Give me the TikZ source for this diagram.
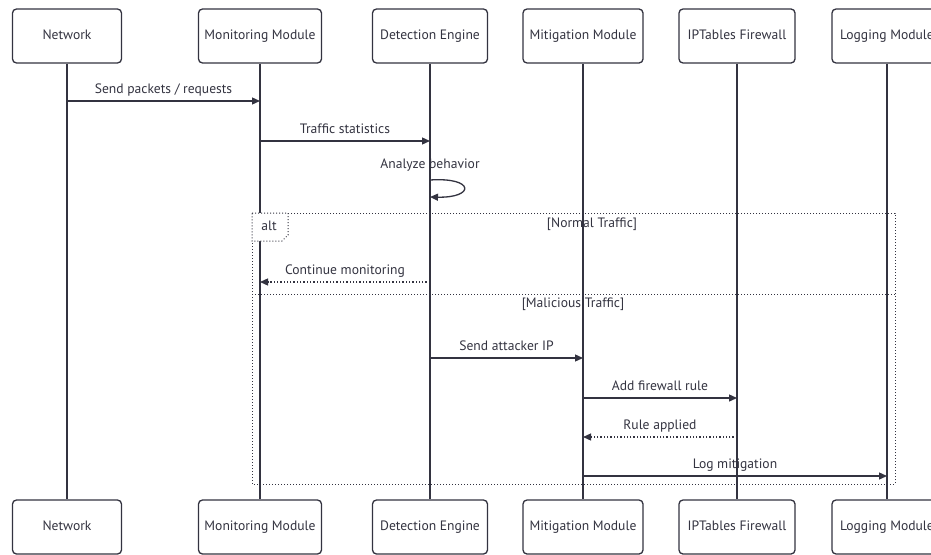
\documentclass[tikz,border=0pt]{standalone}
\usepackage{fontspec}
\setmainfont{PT Sans}
\usetikzlibrary{arrows.meta,positioning}
\definecolor{ink}{HTML}{333340}

\tikzset{
  actor/.style={draw=ink, line width=1.3pt, fill=white, rounded corners=4pt,
    minimum height=54pt, text=ink, font=\fontsize{13.6}{15}\selectfont,
    text height=1.6ex, text depth=.3ex},
  life/.style={draw=ink, line width=1.4pt},
  msg/.style={draw=ink, line width=1.3pt, -{Triangle[length=8pt,width=7pt]}},
  reply/.style={msg, dotted},
  lbl/.style={text=ink, font=\fontsize{13.6}{15}\selectfont, inner sep=2pt,
    text height=1.6ex, text depth=.3ex},
  frame/.style={draw=ink, line width=1pt, dotted},
}

\begin{document}
\begin{tikzpicture}[x=1pt,y=-1pt]
\useasboundingbox (0,0) rectangle (931,554);
\clip (0,0) rectangle (931,554);

% participants, top and bottom
\node[actor, minimum width=109pt] (nett) at (67,36) {Network};
\node[actor, minimum width=123pt] (mont) at (260,36) {Monitoring Module};
\node[actor, minimum width=115pt] (dett) at (430,36) {Detection Engine};
\node[actor, minimum width=120pt] (mitt) at (583,36) {Mitigation Module};
\node[actor, minimum width=116pt] (ipt)  at (737,36) {IPTables Firewall};
\node[actor, minimum width=110pt] (logt) at (887,36) {Logging Module};

\node[actor, minimum width=109pt] (netb) at (67,527) {Network};
\node[actor, minimum width=123pt] (monb) at (260,527) {Monitoring Module};
\node[actor, minimum width=115pt] (detb) at (430,527) {Detection Engine};
\node[actor, minimum width=120pt] (mitb) at (583,527) {Mitigation Module};
\node[actor, minimum width=116pt] (ipb)  at (737,527) {IPTables Firewall};
\node[actor, minimum width=110pt] (logb) at (887,527) {Logging Module};

\foreach \a/\b in {nett/netb, mont/monb, dett/detb, mitt/mitb, ipt/ipb, logt/logb}
  \draw[life] (\a) -- (\b);

% alt frame
\draw[frame] (252,213) rectangle (895,484);
\draw[frame] (252,294) -- (895,294);
\draw[frame, fill=white] (252,213) -- (288,213) -- (288,235) -- (282,241) -- (252,241) -- cycle;
\node[lbl] (alt) at (269,227) {alt};
\node[lbl] (normal) at (592,224) {[Normal Traffic]};
\node[lbl] (malicious) at (573,304) {[Malicious Traffic]};

% messages
\draw[msg] (nett |- 0,101) -- node[lbl, above=3pt] (m1) {Send packets / requests} (mont |- 0,101);
\draw[msg] (mont |- 0,141) -- node[lbl, above=3pt] (m2) {Traffic statistics} (dett |- 0,141);
\node[lbl] (m3) at (430,165) {Analyze behavior};
\coordinate (loopa) at (dett |- 0,180);
\coordinate (loopb) at (dett |- 0,197);
\draw[msg] (loopa) .. controls +(45,-3) and +(45,1) .. (loopb);
\draw[reply] (dett |- 0,282) -- node[lbl, above=3pt] (m4) {Continue monitoring} (mont |- 0,282);
\draw[msg] (dett |- 0,358) -- node[lbl, above=3pt] (m5) {Send attacker IP} (mitt |- 0,358);
\draw[msg] (mitt |- 0,398) -- node[lbl, above=3pt] (m6) {Add firewall rule} (ipt |- 0,398);
\draw[reply] (ipt |- 0,437) -- node[lbl, above=3pt] (m7) {Rule applied} (mitt |- 0,437);
\draw[msg] (mitt |- 0,476) -- node[lbl, above=3pt] (m8) {Log mitigation} (logt |- 0,476);
\end{tikzpicture}
\end{document}
